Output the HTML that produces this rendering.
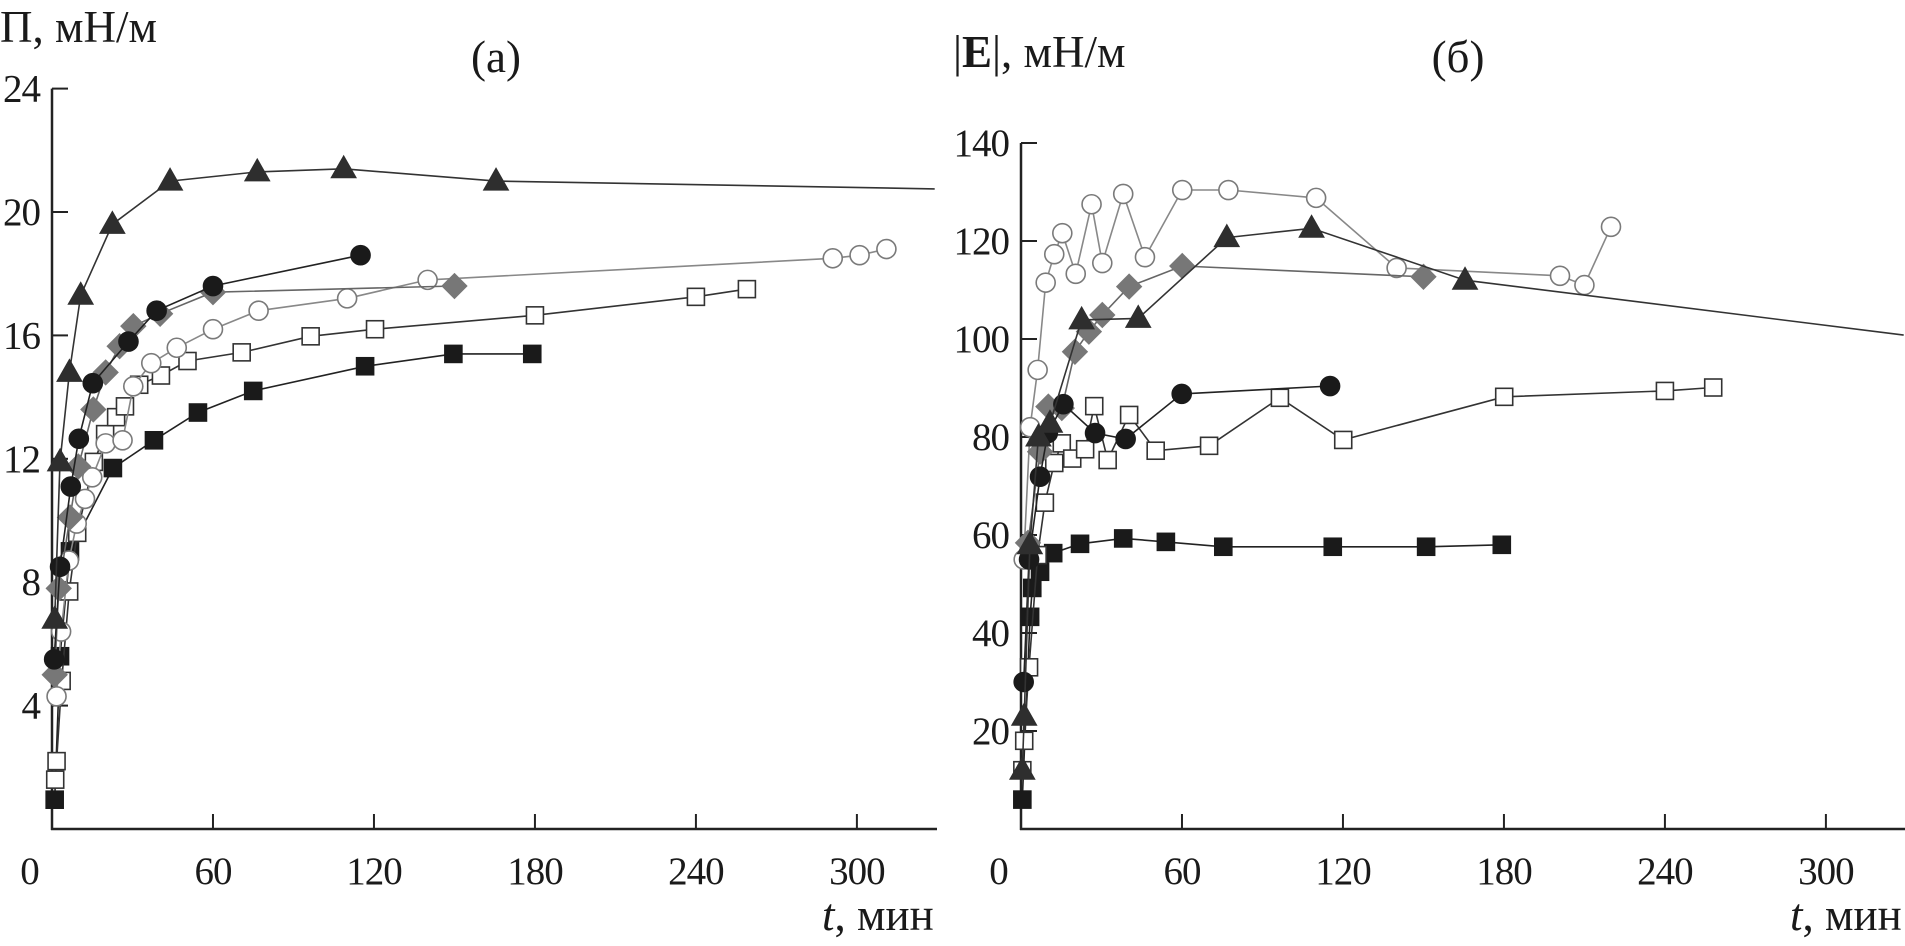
<!DOCTYPE html>
<html><head><meta charset="utf-8">
<style>
html,body{margin:0;padding:0;background:#fff;}
svg{display:block;}
text{font-family:"Liberation Serif","DejaVu Serif",serif;fill:#1a1a1a;}
</style></head>
<body>
<svg id="chart" width="1905" height="946" viewBox="0 0 1905 946" xmlns="http://www.w3.org/2000/svg">
<g id="panelA"></g>
<g id="panelB"></g>
</svg>
<script>
const xTicks = [0, 60, 120, 180, 240, 300];
const yTicksA = [4, 8, 12, 16, 20, 24];
const yTicksB = [20, 40, 60, 80, 100, 120, 140];

const a_tri_t = [1, 3, 6.5, 10.7, 22.5, 44, 76.5, 108.7, 165.5, 329];
const a_tri_v = [6.8, 11.9, 14.8, 17.3, 19.6, 21.0, 21.3, 21.4, 21.0, 20.75];
const a_circ_t = [0.8, 3, 7, 10, 15.2, 28.5, 39, 60, 115];
const a_circ_v = [5.5, 8.5, 11.1, 12.65, 14.45, 15.8, 16.8, 17.6, 18.6];
const a_dia_t = [1, 2.5, 6.7, 9.8, 15.4, 20, 25.2, 30.3, 40.3, 60, 150];
const a_dia_v = [5, 7.8, 10.1, 11.75, 13.6, 14.8, 15.65, 16.3, 16.7, 17.4, 17.6];
const a_ocirc_t = [1.7, 3.4, 6.3, 9.2, 12.3, 15, 20, 26.3, 30.3, 37, 46.5, 60, 77, 110, 140, 291, 301, 311];
const a_ocirc_v = [4.3, 6.4, 8.7, 9.9, 10.7, 11.4, 12.5, 12.6, 14.35, 15.1, 15.6, 16.2, 16.8, 17.2, 17.8, 18.5, 18.6, 18.8];
const a_osq_t = [1.2, 1.7, 3.6, 6.4, 9.4, 15.6, 19.8, 23.9, 27.2, 32.5, 40.6, 50.5, 70.7, 96.4, 120.4, 180, 240, 259];
const a_osq_v = [1.6, 2.2, 4.8, 7.7, 9.6, 11.9, 12.8, 13.35, 13.7, 14.4, 14.7, 15.17, 15.45, 15.97, 16.2, 16.65, 17.25, 17.5];
const a_sq_t = [1, 3, 6.7, 22.7, 38, 54.4, 75, 116.7, 149.6, 179];
const a_sq_v = [0.95, 5.6, 9.0, 11.7, 12.6, 13.5, 14.2, 15.0, 15.4, 15.4];

const b_tri_t = [0.5, 1.2, 3.3, 6.5, 10.8, 22.6, 43.7, 76.7, 108.3, 165.5, 329];
const b_tri_v = [12, 23, 58, 80, 82.8, 103.9, 104.2, 120.7, 122.6, 112, 100.8];
const b_circ_t = [1, 3, 7.1, 10, 15.8, 27.6, 39, 59.9, 115.2];
const b_circ_v = [30, 55, 71.9, 80.8, 86.7, 80.8, 79.6, 88.8, 90.4];
const b_dia_t = [2.6, 7.1, 10.2, 15.2, 20.1, 25.3, 30.3, 40.3, 60.1, 150];
const b_dia_v = [58.4, 77, 86.2, 85.9, 97.4, 101.5, 104.9, 110.7, 114.9, 112.7];
const b_ocirc_t = [1, 3.4, 6.2, 9.2, 12.4, 15.4, 20.4, 26.3, 30.3, 38.1, 46.2, 60.1, 77.3, 110, 140, 200.9, 210, 219.9];
const b_ocirc_v = [55, 82, 93.7, 111.5, 117.3, 121.6, 113.3, 127.5, 115.5, 129.6, 116.7, 130.4, 130.4, 128.8, 114.5, 112.9, 111, 122.9];
const b_osq_t = [0.5, 1.2, 3, 6.2, 8.9, 12.4, 15.2, 19.1, 23.9, 27.3, 32.3, 40.3, 50.2, 70.1, 96.5, 120.1, 180.1, 240, 258];
const b_osq_v = [12, 18, 33, 55.9, 66.6, 74.7, 78.7, 75.6, 77.5, 86.3, 75.3, 84.5, 77.2, 78.2, 88, 79.4, 88.2, 89.4, 90.1];
const b_sq_t = [0.5, 3.4, 4.2, 7.1, 12, 22, 38.1, 54, 75.4, 116.2, 151, 179.2];
const b_sq_v = [6, 43.3, 49.2, 52.5, 56.3, 58.2, 59.3, 58.6, 57.6, 57.6, 57.6, 58];

const NS = "http://www.w3.org/2000/svg";
function mk(parent, tag, attrs, txt) {
  const e = document.createElementNS(NS, tag);
  for (const k in attrs) e.setAttribute(k, attrs[k]);
  if (txt !== undefined) e.textContent = txt;
  parent.appendChild(e);
  return e;
}

const styles = {
  tri:   {line: "#333", fill: "#2e2e2e", stroke: "#2e2e2e", shape: "tri"},
  circ:  {line: "#222", fill: "#1a1a1a", stroke: "#1a1a1a", shape: "circ"},
  dia:   {line: "#666", fill: "#777", stroke: "#777", shape: "dia"},
  ocirc: {line: "#888", fill: "#fff", stroke: "#7a7a7a", shape: "circ"},
  osq:   {line: "#333", fill: "#fff", stroke: "#333", shape: "sq"},
  sq:    {line: "#222", fill: "#1a1a1a", stroke: "#1a1a1a", shape: "sq"}
};

function drawPanel(g, cfg) {
  const xS = t => cfg.x0 + t * 2.683;
  const yS = v => cfg.y0 - v * cfg.ky;
  const ax = mk(g, "line", {x1: cfg.x0, y1: cfg.y0 + 1, x2: cfg.x0, y2: yS(cfg.yTop), stroke: "#222", "stroke-width": 2.5});
  
  
  const xa = mk(g, "line", {x1: cfg.x0 - 1, y1: cfg.y0, x2: cfg.xEnd, y2: cfg.y0, stroke: "#222", "stroke-width": 2.5});
  
  
  const lx = mk(g, "text", {x: cfg.x0 - 22, y: 884, "font-size": 39, "text-anchor": "middle"}, "0");
  
  
  xTicks.forEach(t => {
    if (t === 0) return;
    const x = xS(t);
    const tk = mk(g, "line", {x1: x, y1: cfg.y0, x2: x, y2: cfg.y0 - 15, stroke: "#222", "stroke-width": 2});
    
    
    const tl = mk(g, "text", {x: x, y: 884, "font-size": 39, "text-anchor": "middle", "letter-spacing": "-1"}, String(t));
    
    
  });
  cfg.yTicks.forEach(v => {
    const y = yS(v);
    const tk = mk(g, "line", {x1: cfg.x0, y1: y, x2: cfg.x0 + 16, y2: y, stroke: "#222", "stroke-width": 2});
    
    
    const tl = mk(g, "text", {x: cfg.x0 - 12, y: y + 13, "font-size": 39, "text-anchor": "end", "letter-spacing": "-1"}, String(v));
    
    
  });
  cfg.series.forEach(s => {
    const st = styles[s.kind];
    const pts = s.t.map((t, i) => xS(t).toFixed(1) + "," + yS(s.v[i]).toFixed(1)).join(" ");
    const pl = mk(g, "polyline", {points: pts, fill: "none", stroke: st.line, "stroke-width": 1.6});
    
    
    s.t.forEach((t, i) => {
      const x = xS(t), y = yS(s.v[i]);
      if (x > cfg.xEnd - 5) return;
      let m;
      if (st.shape === "tri") {
        m = mk(g, "polygon", {points: `${x},${y-13} ${x-12.5},${y+9} ${x+12.5},${y+9}`, fill: st.fill, stroke: st.stroke, "stroke-width": 1});
      } else if (st.shape === "circ") {
        m = mk(g, "circle", {cx: x, cy: y, r: 9.5, fill: st.fill, stroke: st.stroke, "stroke-width": 1.6});
      } else if (st.shape === "dia") {
        m = mk(g, "polygon", {points: `${x},${y-12.5} ${x+12.5},${y} ${x},${y+12.5} ${x-12.5},${y}`, fill: st.fill, stroke: st.stroke, "stroke-width": 1});
      } else {
        m = mk(g, "rect", {x: x - 8.5, y: y - 8.5, width: 17, height: 17, fill: st.fill, stroke: st.stroke, "stroke-width": 1.6});
      }
      
      
    });
  });
}

const gA = document.getElementById("panelA");
drawPanel(gA, {
  x0: 52, y0: 829, ky: 30.85, yTop: 24, xEnd: 937, yTicks: yTicksA,
  series: [
    {kind: "sq", t: a_sq_t, v: a_sq_v},
    {kind: "osq", t: a_osq_t, v: a_osq_v},
    {kind: "ocirc", t: a_ocirc_t, v: a_ocirc_v},
    {kind: "dia", t: a_dia_t, v: a_dia_v},
    {kind: "circ", t: a_circ_t, v: a_circ_v},
    {kind: "tri", t: a_tri_t, v: a_tri_v}
  ]
});
const gB = document.getElementById("panelB");
drawPanel(gB, {
  x0: 1021, y0: 829, ky: 4.9, yTop: 140, xEnd: 1905, yTicks: yTicksB,
  series: [
    {kind: "sq", t: b_sq_t, v: b_sq_v},
    {kind: "osq", t: b_osq_t, v: b_osq_v},
    {kind: "ocirc", t: b_ocirc_t, v: b_ocirc_v},
    {kind: "dia", t: b_dia_t, v: b_dia_v},
    {kind: "circ", t: b_circ_t, v: b_circ_v},
    {kind: "tri", t: b_tri_t, v: b_tri_v}
  ]
});
</script>
<svg style="position:absolute;left:0;top:0" width="1905" height="946" xmlns="http://www.w3.org/2000/svg">
  <text x="0" y="42" font-size="45">П, мН/м</text>
  <text x="496" y="72" font-size="45" text-anchor="middle">(а)</text>
  <text x="822" y="930" font-size="45"><tspan font-style="italic">t</tspan>, мин</text>
  <text x="953" y="67" font-size="45">|<tspan font-weight="bold">E</tspan>|, мН/м</text>
  <text x="1458" y="72" font-size="45" text-anchor="middle">(б)</text>
  <text x="1790" y="930" font-size="45"><tspan font-style="italic">t</tspan>, мин</text>
</svg>
</body></html>
